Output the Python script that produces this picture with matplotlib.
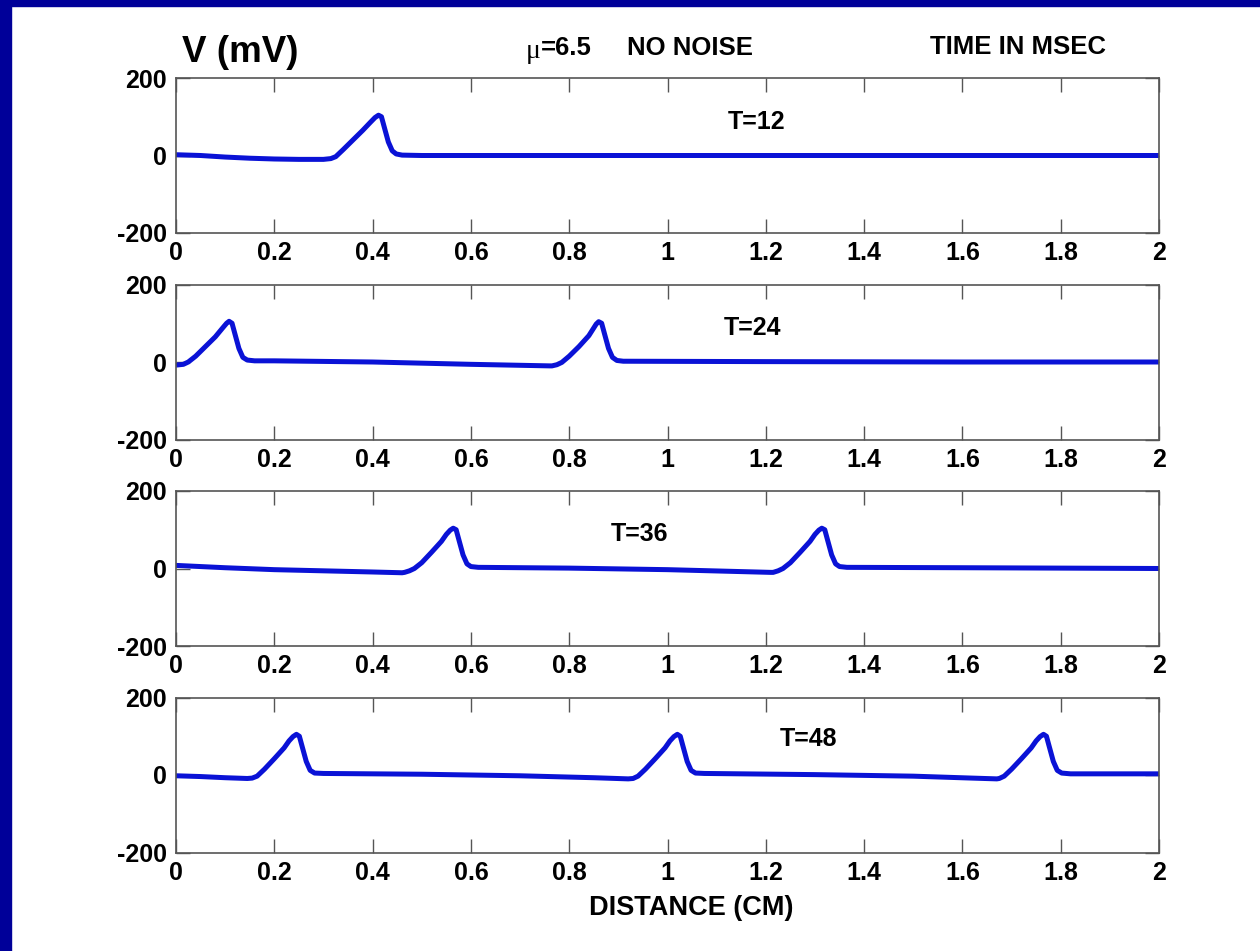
import matplotlib
matplotlib.use("Agg")
import matplotlib.pyplot as plt
from matplotlib.patches import Rectangle

# Membrane potential profiles along the cable at four times
labels = ["T=12", "T=24", "T=36", "T=48"]

x_t12 = [0, 0.05, 0.1, 0.15, 0.2, 0.25, 0.3, 0.315, 0.325, 0.34, 0.36, 0.38,
         0.395, 0.405, 0.412, 0.418, 0.424, 0.432, 0.44, 0.448, 0.46, 0.5,
         1.0, 1.5, 2.0]
v_t12 = [2, 0, -4, -7, -9, -10, -10, -8, -3, 15, 40, 65,
         85, 98, 104, 100, 72, 35, 12, 4, 1, 0,
         0, 0, 0]

x_t24 = [0, 0.015, 0.025, 0.04, 0.06, 0.08, 0.095, 0.103, 0.108, 0.114,
         0.12, 0.128, 0.136, 0.145, 0.16, 0.2, 0.4, 0.6, 0.76,
         0.765, 0.775, 0.785, 0.8, 0.82, 0.84, 0.85, 0.855, 0.86, 0.866,
         0.872, 0.88, 0.888, 0.897, 0.91, 1.2, 1.6, 2.0]
v_t24 = [-8, -6, 0, 15, 40, 65, 88, 100, 105, 100,
         72, 35, 12, 5, 3, 3, 0, -6, -10,
         -10, -7, -1, 15, 40, 68, 88, 98, 104, 100,
         72, 35, 12, 4, 2, 1, 0, 0]

x_t36 = [0, 0.1, 0.2, 0.3, 0.4, 0.46, 0.465, 0.475, 0.485, 0.5, 0.52, 0.54,
         0.55, 0.558, 0.564, 0.57, 0.576, 0.584, 0.592, 0.6, 0.615, 0.8,
         1.0, 1.15, 1.21, 1.215, 1.225, 1.235, 1.25, 1.27, 1.29, 1.3, 1.308,
         1.314, 1.32, 1.326, 1.334, 1.342, 1.35, 1.365, 1.6, 1.8, 2.0]
v_t36 = [8, 2, -3, -6, -9, -11, -10, -6, 0, 15, 42, 70,
         88, 99, 104, 100, 72, 35, 12, 5, 3, 1,
         -3, -8, -10, -10, -6, 0, 15, 42, 70, 88, 99,
         104, 100, 72, 35, 12, 5, 3, 2, 1, 0]

x_t48 = [0, 0.05, 0.1, 0.145, 0.155, 0.165, 0.18, 0.2, 0.22, 0.23, 0.238,
         0.245, 0.251, 0.257, 0.265, 0.273, 0.282, 0.3, 0.5, 0.7, 0.85,
         0.92, 0.93, 0.94, 0.955, 0.975, 0.995, 1.005, 1.013, 1.02, 1.026,
         1.032, 1.04, 1.048, 1.057, 1.075, 1.3, 1.5, 1.62, 1.67, 1.675,
         1.685, 1.7, 1.72, 1.74, 1.75, 1.758, 1.765, 1.771, 1.777, 1.785,
         1.793, 1.802, 1.82, 2.0]
v_t48 = [-2, -4, -7, -9, -8, -3, 15, 42, 70, 88, 99,
         105, 100, 72, 35, 12, 5, 4, 2, -2, -7,
         -10, -9, -3, 15, 42, 70, 88, 99, 105, 100,
         72, 35, 12, 5, 4, 1, -3, -8, -10, -9,
         -3, 15, 42, 70, 88, 99, 105, 100, 72, 35,
         12, 5, 3, 3]

xs = [x_t12, x_t24, x_t36, x_t48]
vs = [v_t12, v_t24, v_t36, v_t48]

# label positions (distance, mV) for the time annotations
label_x = [1.182, 1.172, 0.944, 1.286]
label_y = [86, 87, 89, 92]

x_ticks = [0, 0.2, 0.4, 0.6, 0.8, 1, 1.2, 1.4, 1.6, 1.8, 2]
x_ticklabels = ["0", "0.2", "0.4", "0.6", "0.8", "1", "1.2", "1.4", "1.6", "1.8", "2"]
y_ticks = [-200, 0, 200]
y_ticklabels = ["-200", "0", "200"]

W, H = 1260, 951
fig = plt.figure(figsize=(W / 100, H / 100), dpi=100)
fig.patch.set_facecolor("white")

SANS = "Liberation Sans"
NAVY = "#000099"
LINE = "#0a12d6"

# navy slide frame
fig.patches.append(Rectangle((0, 0), 11 / W, 1, transform=fig.transFigure,
                             color=NAVY, zorder=0))
fig.patches.append(Rectangle((0, 1 - 6 / H), 1, 6 / H, transform=fig.transFigure,
                             color=NAVY, zorder=0))

left, right = 176, 1159
tops = [78, 284.5, 491, 697.5]
height = 155

for i in range(4):
    ax = fig.add_axes([left / W, 1 - (tops[i] + height) / H,
                       (right - left) / W, height / H])
    ax.plot(xs[i], vs[i], color=LINE, lw=3.6, solid_capstyle="butt",
            solid_joinstyle="round")
    ax.set_xlim(0, 2)
    ax.set_ylim(-200, 200)
    ax.set_xticks(x_ticks)
    ax.set_xticklabels(x_ticklabels)
    ax.set_yticks(y_ticks)
    ax.set_yticklabels(y_ticklabels)
    ax.tick_params(direction="in", top=True, right=True, length=10, width=1,
                   color="#555555", labelcolor="black", labelsize=18)
    ax.tick_params(axis="x", pad=6)
    ax.tick_params(axis="y", pad=6.5)
    for lab in ax.get_xticklabels() + ax.get_yticklabels():
        lab.set_fontfamily(SANS)
        lab.set_fontweight("bold")
    for sp in ax.spines.values():
        sp.set_color("#555555")
        sp.set_linewidth(1.2)
    ax.text(label_x[i], label_y[i], labels[i], ha="center", va="center",
            fontsize=18, fontweight="bold", family=SANS)

fig.text(182 / W, 1 - 52 / H, "V (mV)", ha="left", va="center",
         fontsize=26.5, fontweight="bold", family=SANS)
fig.text(526 / W, 1 - 51 / H, "\u03bc", ha="left", va="center",
         fontsize=20, family="Liberation Serif")
fig.text(541 / W, 1 - 48 / H, "=6.5", ha="left", va="center",
         fontsize=18.5, fontweight="bold", family=SANS)
fig.text(627 / W, 1 - 48 / H, "NO NOISE", ha="left", va="center",
         fontsize=18.5, fontweight="bold", family=SANS)
fig.text(930 / W, 1 - 47.5 / H, "TIME IN MSEC", ha="left", va="center",
         fontsize=18.5, fontweight="bold", family=SANS)
fig.text(691 / W, 1 - 908 / H, "DISTANCE (CM)", ha="center", va="center",
         fontsize=19.5, fontweight="bold", family=SANS)

fig.savefig("out.png", dpi=100, facecolor="white")
